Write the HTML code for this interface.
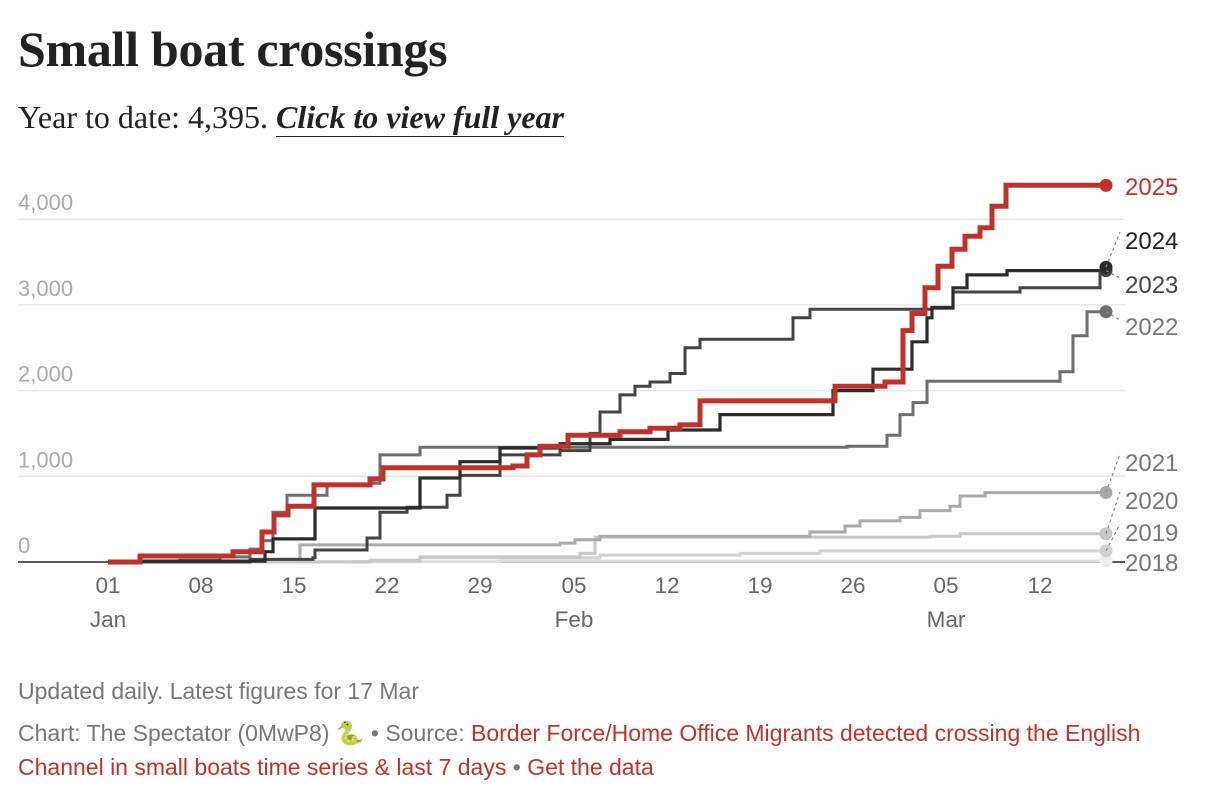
<!DOCTYPE html>
<html><head><meta charset="utf-8"><style>
body{margin:0;background:#fff;width:1214px;height:804px;overflow:hidden;font-family:"Liberation Sans",sans-serif}
.t{position:absolute;left:18px;top:20px;font-family:"Liberation Serif",serif;font-weight:bold;font-size:50px;color:#222;letter-spacing:-0.3px}
.s{position:absolute;left:18px;top:99px;font-family:"Liberation Serif",serif;font-size:32px;color:#222}
.s i{font-weight:bold;text-decoration:underline;text-decoration-thickness:1px;text-underline-offset:8px}
.f{position:absolute;left:18px;font-size:23px;color:#777}
.f a{color:#c0312b;text-decoration:none}
</style></head><body>
<div class="t">Small boat crossings</div>
<div class="s">Year to date: 4,395. <i>Click to view full year</i></div>
<svg id="c" width="1214" height="804" style="position:absolute;left:0;top:0" font-family="Liberation Sans, sans-serif"></svg>
<div class="f" style="top:678px">Updated daily. Latest figures for 17 Mar</div>
<div class="f" style="top:716px;line-height:34px;width:1170px">Chart: The Spectator (0MwP8) 🐍 • Source: <a>Border Force/Home Office Migrants detected crossing the English Channel in small boats time series &amp; last 7 days</a> • <a>Get the data</a></div>
<script>
const Y=v=>562-v*0.0857;
let s='';
[1000,2000,3000,4000].forEach(v=>{s+=`<line x1="18" x2="1125" y1="${Y(v)}" y2="${Y(v)}" stroke="#e6e6e6" stroke-width="1.5"/>`;});
[[0,'0'],[1000,'1,000'],[2000,'2,000'],[3000,'3,000'],[4000,'4,000']].forEach(([v,t])=>{s+=`<text x="18" y="${Y(v)-9}" font-size="22" fill="#aaa">${t}</text>`;});
const ticks=[[108,'01','Jan'],[201,'08'],[294,'15'],[387,'22'],[480,'29'],[574,'05','Feb'],[667,'12'],[760,'19'],[853,'26'],[946,'05','Mar'],[1040,'12']];
ticks.forEach(([x,d,m])=>{s+=`<text x="${x}" y="593" font-size="22.5" fill="#666" text-anchor="middle">${d}</text>`;if(m)s+=`<text x="${x}" y="627" font-size="22.5" fill="#666" text-anchor="middle">${m}</text>`;});
function P(a){let d=`M${a[0][0]},${Y(a[0][1])}`;for(let i=1;i<a.length;i++){d+=`H${a[i][0]}V${Y(a[i][1]).toFixed(1)}`;}return d;}
const S=[
['#dcdcdc',3,[[108,0],[300,5],[500,10],[1106,15]]],
['#d2d2d2',3,[[108,0],[350,5],[420,50],[600,80],[740,100],[820,130],[1106,130]]],
['#c8c8c8',3,[[108,0],[370,20],[420,60],[580,100],[595,290],[930,300],[960,330],[1106,330]]],
['#aaaaaa',3,[[108,0],[250,30],[300,200],[560,220],[575,260],[600,300],[800,300],[810,350],[845,420],[860,480],[900,520],[920,600],[950,650],[960,770],[985,810],[1106,810]]],
['#6e6e6e',3,[[108,0],[180,20],[220,60],[250,150],[262,250],[273,580],[287,780],[327,900],[370,920],[380,1250],[420,1340],[540,1340],[600,1340],[847,1350],[887,1480],[900,1720],[913,1860],[927,2110],[1060,2220],[1073,2640],[1087,2920],[1106,2920]]],
['#444',3,[[108,0],[250,30],[313,50],[315,140],[367,280],[380,580],[407,640],[447,780],[460,1010],[500,1250],[560,1300],[590,1500],[600,1750],[620,1950],[635,2050],[650,2100],[670,2200],[685,2500],[700,2600],[780,2600],[793,2850],[810,2950],[932,2960],[953,3150],[1020,3200],[1100,3200],[1100,3400]]],
['#2b2b2b',3.2,[[108,0],[140,10],[265,120],[273,270],[315,630],[420,980],[460,1170],[500,1330],[560,1380],[610,1430],[668,1540],[720,1720],[833,1720],[833,2000],[873,2250],[895,2250],[912,2570],[927,2850],[932,2970],[953,3200],[967,3350],[1007,3400],[1106,3440]]],
['#c0312b',5,[[108,0],[140,70],[233,120],[262,350],[274,550],[288,650],[314,900],[370,970],[383,1100],[513,1120],[527,1250],[540,1350],[568,1480],[620,1520],[650,1560],[680,1600],[700,1880],[835,1880],[835,2050],[885,2100],[903,2700],[912,2900],[925,3200],[938,3450],[952,3650],[965,3800],[980,3900],[992,4150],[1006,4395],[1106,4395]]]
];
s+=`<line x1="18" x2="1125" y1="562" y2="562" stroke="#222" stroke-width="1.5"/>`;
S.forEach(([c,w,a])=>{s+=`<path d="${P(a)}" fill="none" stroke="${c}" stroke-width="${w}"/>`;});
const dots=[[1106,15,'#eee'],[1106,130,'#d2d2d2'],[1106,330,'#c8c8c8'],[1106,810,'#aaa'],[1106,2920,'#6e6e6e'],[1106,3400,'#444'],[1106,3440,'#2b2b2b'],[1106,4395,'#c0312b']];
dots.forEach(([x,v,c])=>{s+=`<circle cx="${x}" cy="${Y(v)}" r="6.5" fill="${c}"/>`;});
const L=[['2025',186,'#c0312b',null],['2024',240,'#222',[1106,Y(3440)]],['2023',284,'#444',[1106,Y(3400)]],['2022',326,'#777',[1106,Y(2920)]],['2021',462,'#777',[1106,Y(810)]],['2020',500,'#777',[1106,Y(330)]],['2019',532,'#777',[1106,Y(130)]],['2018',562,'#777',null]];
L.forEach(([t,y,c,p])=>{if(p)s+=`<line x1="${p[0]}" y1="${p[1]}" x2="1120" y2="${y+(y<p[1]?-8:-6)}" stroke="#888" stroke-width="1.2" stroke-dasharray="3,3"/>`;s+=`<text x="1125" y="${y+9}" font-size="24" fill="${c}">${t}</text>`;});
document.getElementById('c').innerHTML=s;
</script>
</body></html>
